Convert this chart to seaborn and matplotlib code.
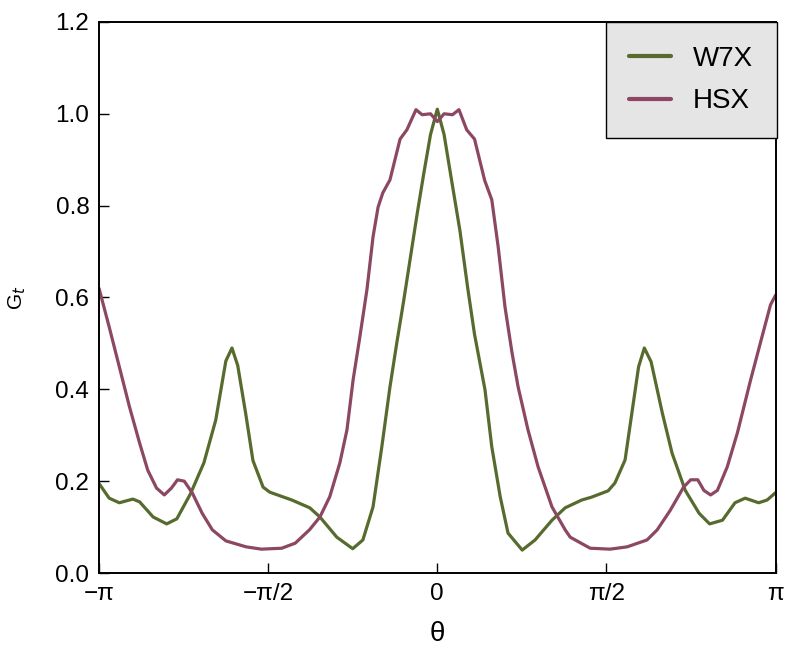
import numpy as np
import pandas as pd
import seaborn as sns
import matplotlib
matplotlib.use("Agg")
import matplotlib.pyplot as plt

# theta values are in units of pi
w7x_theta = [-1.00, -0.97, -0.94, -0.90, -0.88, -0.84, -0.80, -0.77, -0.73, -0.69,
             -0.655, -0.625, -0.607, -0.59, -0.567, -0.545, -0.515, -0.495, -0.43, -0.377,
             -0.347, -0.297, -0.25, -0.22, -0.19, -0.164, -0.14, -0.12, -0.10, -0.08,
             -0.06, -0.04, -0.02, 0.00, 0.02, 0.04, 0.067, 0.09, 0.11, 0.141,
             0.161, 0.186, 0.209, 0.251, 0.289, 0.339, 0.378, 0.427, 0.455, 0.505,
             0.525, 0.555, 0.595, 0.612, 0.632, 0.665, 0.694, 0.733, 0.774, 0.805,
             0.843, 0.88, 0.91, 0.95, 0.975, 1.00]
w7x_g = [0.195, 0.163, 0.153, 0.161, 0.155, 0.122, 0.107, 0.118, 0.172, 0.24,
         0.333, 0.462, 0.49, 0.452, 0.35, 0.245, 0.187, 0.176, 0.159, 0.142,
         0.122, 0.078, 0.053, 0.072, 0.144, 0.275, 0.405, 0.50, 0.59, 0.685,
         0.78, 0.87, 0.955, 1.01, 0.955, 0.865, 0.745, 0.62, 0.52, 0.399,
         0.275, 0.166, 0.087, 0.05, 0.072, 0.115, 0.142, 0.159, 0.165, 0.179,
         0.196, 0.246, 0.449, 0.49, 0.46, 0.349, 0.261, 0.18, 0.13, 0.107,
         0.115, 0.153, 0.163, 0.153, 0.159, 0.175]

hsx_theta = [-1.00, -0.97, -0.94, -0.91, -0.88, -0.856, -0.83, -0.807, -0.786, -0.768,
             -0.748, -0.724, -0.695, -0.665, -0.625, -0.565, -0.52, -0.46, -0.42, -0.378,
             -0.347, -0.318, -0.288, -0.267, -0.249, -0.229, -0.208, -0.19, -0.175, -0.161,
             -0.14, -0.11, -0.09, -0.063, -0.045, -0.02, 0.00, 0.02, 0.045, 0.064,
             0.087, 0.11, 0.14, 0.161, 0.18, 0.20, 0.221, 0.239, 0.268, 0.298,
             0.339, 0.378, 0.393, 0.452, 0.511, 0.561, 0.62, 0.65, 0.689, 0.728,
             0.749, 0.77, 0.788, 0.808, 0.828, 0.857, 0.887, 0.926, 0.955, 0.985, 1.00]
hsx_g = [0.62, 0.536, 0.449, 0.362, 0.283, 0.224, 0.185, 0.17, 0.185, 0.203,
         0.2, 0.174, 0.13, 0.094, 0.07, 0.057, 0.052, 0.054, 0.065, 0.094,
         0.122, 0.166, 0.24, 0.312, 0.42, 0.514, 0.617, 0.732, 0.797, 0.828,
         0.856, 0.945, 0.965, 1.009, 0.998, 1.0, 0.983, 1.0, 0.998, 1.009,
         0.965, 0.945, 0.855, 0.813, 0.71, 0.58, 0.479, 0.405, 0.312, 0.231,
         0.144, 0.094, 0.078, 0.054, 0.052, 0.057, 0.072, 0.094, 0.137, 0.187,
         0.203, 0.203, 0.18, 0.17, 0.18, 0.231, 0.305, 0.42, 0.501, 0.584, 0.605]

series_names = ["W7X", "HSX"]
colors = {"W7X": "#566b2d", "HSX": "#8c4763"}

tick_pos = [-1.0, -0.5, 0.0, 0.5, 1.0]
tick_labels = ["\u2212\u03c0", "\u2212\u03c0/2", "0", "\u03c0/2", "\u03c0"]
ytick_vals = [0.0, 0.2, 0.4, 0.6, 0.8, 1.0, 1.2]

df = pd.concat([
    pd.DataFrame({"theta": np.array(w7x_theta) * np.pi, "G": w7x_g, "series": "W7X"}),
    pd.DataFrame({"theta": np.array(hsx_theta) * np.pi, "G": hsx_g, "series": "HSX"}),
])

sns.set_style("ticks")
plt.rcParams["font.family"] = ["Liberation Sans", "DejaVu Sans"]
plt.rcParams["text.color"] = "black"
plt.rcParams["axes.labelcolor"] = "black"

fig = plt.figure(figsize=(7.89, 6.65), dpi=100)
ax = fig.add_axes([0.1255, 0.1383, 0.8575, 0.8287])

sns.lineplot(data=df, x="theta", y="G", hue="series", hue_order=series_names,
             palette=colors, estimator=None, sort=False, linewidth=2.3, ax=ax)

ax.set_xlim(-np.pi, np.pi)
ax.set_ylim(0, 1.2)
ax.set_xticks(np.array(tick_pos) * np.pi, tick_labels)
ax.set_yticks(ytick_vals, [f"{v:.1f}" for v in ytick_vals])
ax.tick_params(axis="both", direction="in", length=7, width=1, colors="black",
               labelsize=17.5, pad=7)
for s in ax.spines.values():
    s.set_linewidth(1.4)
    s.set_color("black")

ax.set_xlabel("\u03b8", fontsize=20, labelpad=12)
ax.set_ylabel("G$_t$", fontsize=15, labelpad=20)

leg = ax.legend(loc="upper right", bbox_to_anchor=(1.002, 1.0), borderaxespad=0,
                fontsize=20, frameon=True, fancybox=False, framealpha=1,
                handlelength=1.5, handletextpad=0.8, borderpad=0.85, labelspacing=0.6)
leg.get_frame().set_facecolor("#e5e5e5")
leg.get_frame().set_edgecolor("black")
leg.get_frame().set_linewidth(1.0)
for line in leg.get_lines():
    line.set_linewidth(3)

fig.savefig("out.png", dpi=100)
